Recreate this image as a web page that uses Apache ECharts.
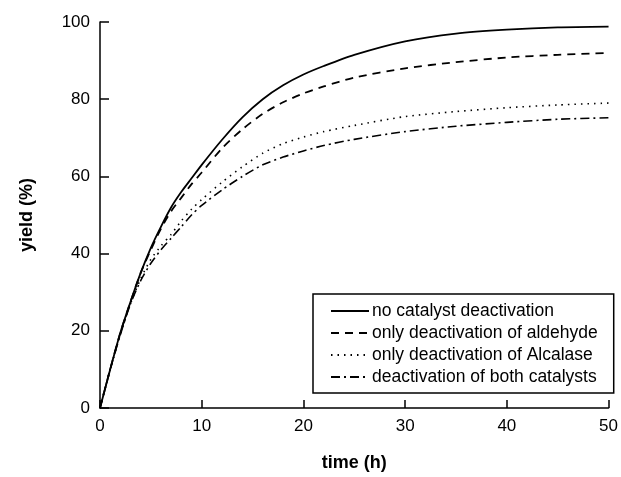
<!DOCTYPE html>
<html>
<head>
<meta charset="utf-8">
<script src="https://cdn.jsdelivr.net/npm/echarts@6/dist/echarts.min.js"></script>
<style>
 html,body{margin:0;padding:0;background:#fff;}
 #chart{width:621px;height:477px;}
</style>
</head>
<body>
<div id="chart"></div>
<script>
// time points (h)
var time = [0,1,2,3,4,5,6,7,8,9,10,12,14,16,18,20,22,25,30,35,40,45,50];
// yield (%)
var noDeact    = [0,10,19.5,27.5,35,41.5,47,52,56,59.5,63,69.5,75.3,80,83.6,86.4,88.6,91.5,95,97,98,98.6,98.8];
var onlyAld    = [0,10,19.5,27.5,35,41,46.5,51,54.5,58,61,67.3,72.2,76.2,79.2,81.5,83.3,85.6,88,89.6,90.8,91.5,92];
var onlyAlc    = [0,10,19,27,33.5,38.5,42,45,48.5,51.5,54,58.5,62.5,66,68.5,70.2,71.6,73.2,75.5,76.8,77.8,78.5,79];
var bothDeact  = [0,10,19,27,33,37.5,41,44,47,50,52.5,56.5,60,63,65,66.6,68,69.6,71.6,73,74,74.8,75.2];
var names = ['no catalyst deactivation','only deactivation of aldehyde','only deactivation of Alcalase','deactivation of both catalysts'];

function pairs(arr){
	var out = [];
	for (var i=0;i<time.length;i++) out.push([time[i],arr[i]]);
	return out;
}

var chart = echarts.init(document.getElementById('chart'));
var font = 'Liberation Sans, Arial, sans-serif';

function mk(name,arr,type,w){
	return {
		name:name,
		type:'line',
		data:pairs(arr),
		symbol:'none',
		smooth:0.25,
		lineStyle:{color:'#000',width:w,type:type},
		itemStyle:{color:'#000'}
	};
}

option = {
	animation:false,
	backgroundColor:'#fff',
	grid:{left:100,right:11,top:22,bottom:63,containLabel:false},
	legend:{
		orient:'vertical',
		left:313,
		top:294,
		padding:[8,16,7,17],
		itemWidth:38,
		itemHeight:14,
		itemGap:4,
		borderColor:'#000',
		borderWidth:1.5,
		backgroundColor:'#fff',
		itemStyle:{color:'transparent',borderColor:'transparent',borderWidth:0},
		textStyle:{fontFamily:font,fontSize:17.5,lineHeight:17.5,color:'#000',padding:[0,0,0,-2]},
		data:names
	},
	xAxis:{
		type:'value',min:0,max:50,interval:10,
		name:'time (h)',nameLocation:'middle',nameGap:46,
		nameTextStyle:{fontFamily:font,fontSize:18,fontWeight:'bold',color:'#000'},
		axisLine:{lineStyle:{color:'#000',width:1.5}},
		axisTick:{inside:true,length:8,lineStyle:{color:'#000',width:1.5}},
		axisLabel:{fontFamily:font,fontSize:17,color:'#000',margin:10},
		splitLine:{show:false}
	},
	yAxis:{
		type:'value',min:0,max:100,interval:20,
		name:'yield (%)',nameLocation:'middle',nameGap:64,
		nameTextStyle:{fontFamily:font,fontSize:18,fontWeight:'bold',color:'#000'},
		axisLine:{show:true,lineStyle:{color:'#000',width:1.5}},
		axisTick:{show:true,inside:true,length:9,lineStyle:{color:'#000',width:1.5}},
		axisLabel:{fontFamily:font,fontSize:17,color:'#000',margin:10},
		splitLine:{show:false}
	},
	series:[
		mk(names[0],noDeact,'solid',1.8),
		mk(names[1],onlyAld,[8,6],1.8),
		mk(names[2],onlyAlc,[1.5,5],1.6),
		mk(names[3],bothDeact,[9,4,2,4],1.6)
	]
};
chart.setOption(option);
</script>
</body>
</html>
